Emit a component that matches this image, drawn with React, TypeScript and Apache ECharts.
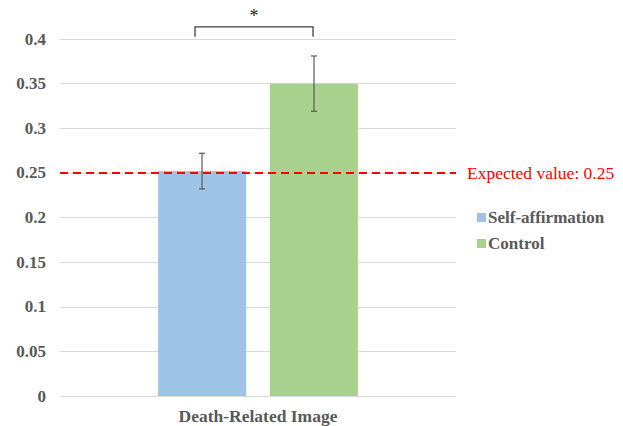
import React, { useEffect, useRef } from "react";
import * as echarts from "echarts";

const categories = ["Death-Related Image"];
const seriesNames = ["Self-affirmation", "Control"];
const selfAffirmation = [0.252];
const control = [0.35];
const selfAffirmationErr = [0.02];
const controlErr = [0.031];
const expectedValue = 0.25;
const expectedLabel = "Expected value: 0.25";
const bracketLevel = 0.4135;
const bracketLegBottom = 0.4025;
const significanceMark = "*";

const FONT = "serif";
const GRAY = "#595959";

export default function App() {
  const ref = useRef<HTMLDivElement>(null);
  useEffect(() => {
    if (!ref.current) return;
    const chart = echarts.init(ref.current, undefined, { renderer: "svg" });
    const barWidth = 88;
    const half = 56; // center offset of each bar (barWidth/2 + gap/2)
    const errData = [
      [0, selfAffirmation[0], selfAffirmationErr[0], -half],
      [0, control[0], controlErr[0], half],
    ];
    chart.setOption({
      animation: false,
      grid: { left: 60, right: 167, top: 39, bottom: 30, containLabel: false },
      legend: {
        data: seriesNames,
        orient: "vertical",
        left: 472,
        top: 204,
        itemWidth: 9,
        itemHeight: 9,
        itemGap: 9,
        icon: "rect",
        textStyle: { fontFamily: FONT, fontWeight: "bold", fontSize: 17, color: GRAY, padding: [0, 0, 0, -3] },
      },
      xAxis: {
        type: "category",
        data: categories,
        axisTick: { show: false },
        axisLine: { show: false },
        axisLabel: { fontFamily: FONT, fontWeight: "bold", fontSize: 17.5, color: GRAY, margin: 11 },
      },
      yAxis: {
        type: "value",
        min: 0,
        max: 0.4,
        interval: 0.05,
        axisLine: { show: false },
        axisTick: { show: false },
        splitLine: { lineStyle: { color: "#d9d9d9", width: 1 } },
        axisLabel: { fontFamily: FONT, fontWeight: "bold", fontSize: 17, color: GRAY, margin: 14 },
      },
      series: [
        {
          name: seriesNames[0],
          type: "bar",
          data: selfAffirmation,
          barWidth,
          barGap: "27%",
          itemStyle: { color: "#9dc3e6" },
          markLine: {
            silent: true,
            symbol: "none",
            data: [{ yAxis: expectedValue }],
            lineStyle: { color: "#ff0000", type: [8, 5], width: 2 },
            label: {
              position: "end",
              formatter: expectedLabel,
              color: "#ff0000",
              fontFamily: FONT,
              fontSize: 17.5,
              distance: 11,
            },
          },
        },
        {
          name: seriesNames[1],
          type: "bar",
          data: control,
          barWidth,
          barGap: "27%",
          itemStyle: { color: "#a9d18e" },
        },
        {
          type: "custom",
          silent: true,
          clip: false,
          z: 10,
          data: errData,
          renderItem: (params: any, api: any) => {
            const x = api.value(0);
            const v = api.value(1);
            const e = api.value(2);
            const off = api.value(3);
            const top = api.coord([x, v + e]);
            const bot = api.coord([x, v - e]);
            const cx = top[0] + off;
            const cap = 3;
            const style = { stroke: "#595959", lineWidth: 1.2 };
            return {
              type: "group",
              children: [
                { type: "line", shape: { x1: cx, y1: top[1], x2: cx, y2: bot[1] }, style },
                { type: "line", shape: { x1: cx - cap, y1: top[1], x2: cx + cap, y2: top[1] }, style },
                { type: "line", shape: { x1: cx - cap, y1: bot[1], x2: cx + cap, y2: bot[1] }, style },
              ],
            };
          },
        },
        {
          type: "custom",
          silent: true,
          clip: false,
          z: 10,
          data: [[0, bracketLevel, bracketLegBottom]],
          renderItem: (params: any, api: any) => {
            const top = api.coord([api.value(0), api.value(1)]);
            const bot = api.coord([api.value(0), api.value(2)]);
            const l = top[0] - 63;
            const r = top[0] + 55;
            const style = { stroke: "#404040", lineWidth: 1.3, fill: "none" };
            return {
              type: "group",
              children: [
                {
                  type: "polyline",
                  shape: { points: [[l, bot[1]], [l, top[1]], [r, top[1]], [r, bot[1]]] },
                  style,
                },
                {
                  type: "text",
                  x: (l + r) / 2,
                  y: top[1] - 2,
                  style: {
                    text: significanceMark,
                    fontFamily: FONT,
                    fontSize: 18,
                    fill: "#262626",
                    textAlign: "center",
                    textVerticalAlign: "bottom",
                  },
                },
              ],
            };
          },
        },
      ],
    });
    return () => chart.dispose();
  }, []);
  return <div ref={ref} style={{ width: 623, height: 426, position: "absolute", left: 0, top: 0 }} />;
}
